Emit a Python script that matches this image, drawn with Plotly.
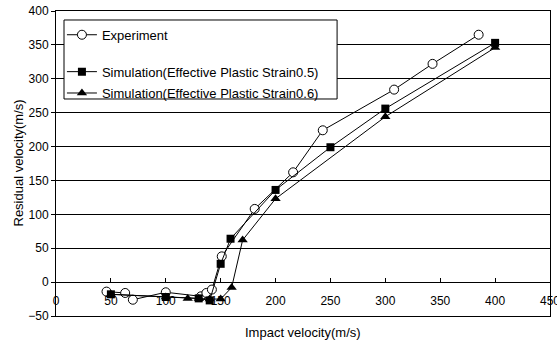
import plotly.graph_objects as go

# Data
exp_x = [46, 63, 70, 100, 132, 137, 142, 151, 181, 216, 243, 308, 343, 385]
exp_y = [-14, -16, -26, -15, -21, -16, -11, 38, 108, 162, 224, 284, 322, 365]

sim05_x = [50, 100, 130, 140, 150, 159, 200, 250, 300, 400]
sim05_y = [-18, -22, -24, -27, 27, 64, 136, 199, 256, 353]

sim06_x = [50, 100, 120, 130, 140, 150, 160, 170, 200, 300, 400]
sim06_y = [-18, -22, -24, -24, -25, -25, -8, 62, 123, 244, 346]

names = ["Experiment",
         "Simulation(Effective Plastic Strain0.5)",
         "Simulation(Effective Plastic Strain0.6)"]
x_title = "Impact velocity(m/s)"
y_title = "Residual velocity(m/s)"

FONT = "Liberation Sans, Arial, sans-serif"

fig = go.Figure()
fig.add_trace(go.Scatter(
    x=exp_x, y=exp_y, name=names[0], mode="lines+markers",
    line=dict(color="black", width=1),
    marker=dict(symbol="circle", size=9, color="white",
                line=dict(color="black", width=1)),
    legend="legend"))
fig.add_trace(go.Scatter(
    x=sim05_x, y=sim05_y, name=names[1], mode="lines+markers",
    line=dict(color="black", width=1),
    marker=dict(symbol="square", size=8, color="black"),
    legend="legend2"))
fig.add_trace(go.Scatter(
    x=sim06_x, y=sim06_y, name=names[2], mode="lines+markers",
    line=dict(color="black", width=1),
    marker=dict(symbol="triangle-up", size=9, color="black"),
    legend="legend3"))
# carrier for the secondary (tick-label) x axis crossing at y=0
fig.add_trace(go.Scatter(x=[], y=[], xaxis="x2", showlegend=False,
                         hoverinfo="skip"))

legend_common = dict(x=0.012, xanchor="left", yanchor="middle",
                     bgcolor="rgba(0,0,0,0)", borderwidth=0,
                     font=dict(family=FONT, size=13, color="black"))

fig.update_layout(
    width=557, height=341,
    margin=dict(l=56, r=7, t=11, b=25, autoexpand=False),
    paper_bgcolor="white", plot_bgcolor="white",
    showlegend=True,
    font=dict(family=FONT, size=12, color="black"),
    xaxis=dict(range=[0, 450], showline=True, linecolor="black",
               linewidth=1, mirror=True, showticklabels=False,
               ticks="", showgrid=False, zeroline=False,
               automargin=False),
    xaxis2=dict(range=[0, 450], overlaying="x", anchor="free",
                position=50 / 450, side="bottom", showline=True,
                linecolor="black", linewidth=1, ticks="inside",
                ticklen=4, tickcolor="black", dtick=50, tick0=0,
                tickfont=dict(size=12), showgrid=False, zeroline=False,
                ticklabelstandoff=7, ticklabeloverflow="allow",
                automargin=False),
    yaxis=dict(range=[-50, 400], dtick=50, tick0=0, showgrid=True,
               gridcolor="black", gridwidth=1, showline=True,
               linecolor="black", linewidth=1, mirror=True,
               ticks="outside", ticklen=4, tickcolor="black",
               zeroline=False, tickfont=dict(size=12),
               automargin=False),
    legend=dict(y=0.922, **legend_common),
    legend2=dict(y=0.801, **legend_common),
    legend3=dict(y=0.731, **legend_common),
    shapes=[dict(type="rect", xref="paper", yref="paper",
                 x0=0.0162, x1=0.569, y0=0.7115, y1=0.9705,
                 line=dict(color="black", width=1), fillcolor="white",
                 layer="above")],
    annotations=[
        dict(text=x_title, xref="paper", yref="paper", x=0.5,
             y=-(332 - 316) / 305, xanchor="center", yanchor="middle",
             showarrow=False, font=dict(size=13)),
        dict(text=y_title, xref="paper", yref="paper",
             x=(18 - 56) / 494, y=0.5, xanchor="center",
             yanchor="middle", textangle=-90, showarrow=False,
             font=dict(size=13)),
    ],
)

fig.write_html("out.html")
